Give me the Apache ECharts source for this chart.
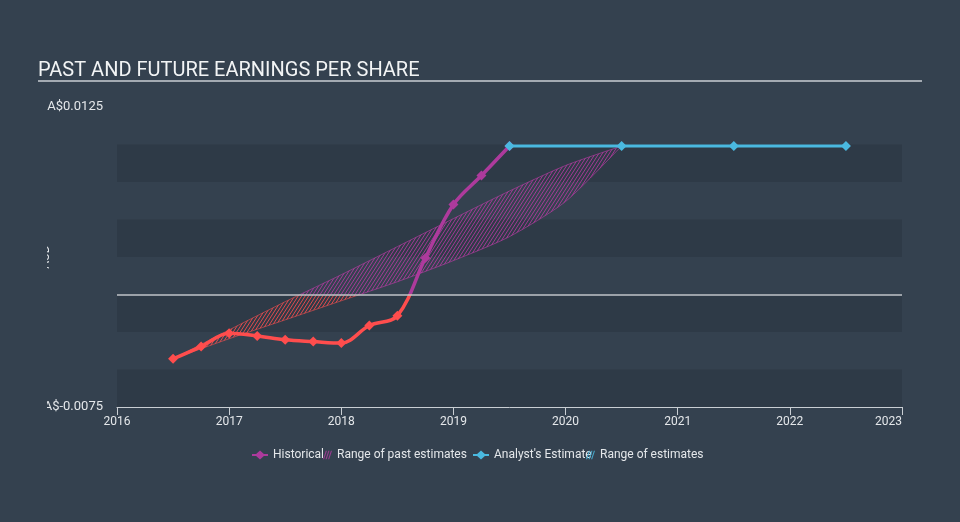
<!DOCTYPE html>
<html><head><meta charset="utf-8">
<script src="https://cdn.jsdelivr.net/npm/echarts@6/dist/echarts.min.js"></script>
<style>html,body{margin:0;padding:0;background:#34414f;}#c{width:960px;height:522px;}</style>
</head><body><div id="c"></div>
<script>
// ---- data ----
const historicalDates = [2016.5, 2016.75, 2017, 2017.25, 2017.5, 2017.75, 2018, 2018.25, 2018.5, 2018.75, 2019, 2019.25, 2019.5];
const historicalEPS   = [-0.00429, -0.00347, -0.00258, -0.00276, -0.00302, -0.00314, -0.00324, -0.00207, -0.00142, 0.00244, 0.00600, 0.00793, 0.0099];
const estimateDates   = [2019.5, 2020.5, 2021.5, 2022.5];
const estimateEPS     = [0.0099, 0.0099, 0.0099, 0.0099];
const pastRangeDates  = [2016.5, 2017, 2017.5, 2018, 2018.5, 2019, 2019.5, 2020, 2020.5];
const pastRangeLow    = [-0.00429, -0.00295, -0.00169, -0.00042, 0.00085, 0.00226, 0.00386, 0.0062, 0.0099];
const pastRangeHigh   = [-0.00429, -0.00236, -0.00048, 0.00132, 0.00319, 0.00506, 0.0069, 0.0086, 0.0099];
const yMin = -0.0075, yMax = 0.0125, yStep = 0.0025;
const xMin = 2016, xMax = 2023, xStep = 1;
const currency = 'A$';
const unitName = 'AUD';

// ---- style ----
const BG = '#34414f';
const RED = '#ff4d4d';
const PURPLE = '#ad3a9c';
const BLUE = '#4ab9e0';
const TXT = '#e4e7ea';
const FONT = 'Roboto';
const hatchIcon = 'path://M0,10L1.3,10L4.6,0L3.3,0Z M3,10L4.3,10L7.6,0L6.3,0Z M6,10L7.3,10L10.6,0L9.3,0Z';
const lineDiamondIcon = 'path://M0,3.5L4.1,3.5L8,0L11.9,3.5L16,3.5L16,5.5L11.9,5.5L8,9L4.1,5.5L0,5.5Z';

const zip = (a, b) => a.map((v, i) => [v, b[i]]);

// hatch tile (repeatable) for the estimate range
function hatchTile(color) {
  const w = 7, h = 11;
  const c = document.createElement('canvas'); c.width = w; c.height = h;
  const ctx = c.getContext('2d');
  ctx.strokeStyle = color; ctx.lineWidth = 1;
  ctx.beginPath();
  for (let k = -3; k <= 3; k++) { const x0 = k * 3.5; ctx.moveTo(x0, h); ctx.lineTo(x0 + w, 0); }
  ctx.stroke();
  return c;
}
const hatchRed = {image: hatchTile('rgba(255,80,80,0.85)'), repeat: 'repeat'};
const hatchPurple = {image: hatchTile('rgba(190,60,168,0.8)'), repeat: 'repeat'};

// smooth curve through pixel points (cubic Hermite / Catmull-Rom)
function smoothPts(pts, k, n) {
  const out = [];
  for (let i = 0; i < pts.length - 1; i++) {
    const p0 = pts[i - 1] || pts[i], p1 = pts[i], p2 = pts[i + 1], p3 = pts[i + 2] || pts[i + 1];
    const m1 = [k * (p2[0] - p0[0]), k * (p2[1] - p0[1])];
    const m2 = [k * (p3[0] - p1[0]), k * (p3[1] - p1[1])];
    for (let s = 0; s < n; s++) {
      const t = s / n, t2 = t * t, t3 = t2 * t;
      const a = 2 * t3 - 3 * t2 + 1, b = t3 - 2 * t2 + t, c = -2 * t3 + 3 * t2, d = t3 - t2;
      out.push([a * p1[0] + b * m1[0] + c * p2[0] + d * m2[0], a * p1[1] + b * m1[1] + c * p2[1] + d * m2[1]]);
    }
  }
  out.push(pts[pts.length - 1]);
  return out;
}
function clipPoly(poly, zy, below) {
  const inside = p => below ? p[1] >= zy : p[1] <= zy;
  const out = [];
  for (let i = 0; i < poly.length; i++) {
    const a = poly[i], b = poly[(i + 1) % poly.length];
    const ia = inside(a), ib = inside(b);
    if (ia) out.push(a);
    if (ia !== ib) { const t = (zy - a[1]) / (b[1] - a[1]); out.push([a[0] + t * (b[0] - a[0]), zy]); }
  }
  return out;
}
function splitLine(pts, zy) {
  const runs = []; let cur = null;
  for (let i = 0; i < pts.length; i++) {
    const p = pts[i], below = p[1] >= zy;
    if (!cur) { cur = {below, pts: [p]}; continue; }
    if (below !== cur.below) {
      const a = pts[i - 1], t = (zy - a[1]) / (p[1] - a[1]);
      const m = [a[0] + t * (p[0] - a[0]), zy];
      cur.pts.push(m); runs.push(cur); cur = {below, pts: [m, p]};
    } else cur.pts.push(p);
  }
  if (cur) runs.push(cur);
  return runs;
}

const chart = echarts.init(document.getElementById('c'), null, {renderer: 'canvas'});

const legendBase = {top: 449, itemHeight: 9, padding: 0, selectedMode: false, textStyle: {color: TXT, fontSize: 12, fontFamily: FONT}};

const option = {
  backgroundColor: BG,
  animation: false,
  title: {
    text: 'PAST AND FUTURE EARNINGS PER SHARE', left: 33, top: 56,
    textStyle: {color: '#f2f4f5', fontSize: 20, fontWeight: 'normal', fontFamily: FONT}
  },
  grid: {left: 117, right: 58, top: 107, bottom: 115},
  legend: [
    Object.assign({}, legendBase, {left: 252, itemWidth: 16, data: [{name: 'Historical', icon: lineDiamondIcon, itemStyle: {color: PURPLE}}]}),
    Object.assign({}, legendBase, {left: 323, itemWidth: 9, data: [{name: 'Range of past estimates', icon: hatchIcon, itemStyle: {color: PURPLE, opacity: 0.85}}]}),
    Object.assign({}, legendBase, {left: 473, itemWidth: 16, data: [{name: "Analyst's Estimate", icon: lineDiamondIcon, itemStyle: {color: BLUE}}]}),
    Object.assign({}, legendBase, {left: 586, itemWidth: 9, data: [{name: 'Range of estimates', icon: hatchIcon, itemStyle: {color: BLUE, opacity: 0.85}}]})
  ],
  xAxis: {
    type: 'value', min: xMin, max: xMax, interval: xStep,
    axisLine: {show: true, onZero: false, lineStyle: {color: '#c9ced3', width: 1}},
    axisTick: {show: true, length: 8, lineStyle: {color: '#c9ced3'}},
    axisLabel: {color: TXT, fontSize: 12, fontFamily: FONT, margin: 9, alignMaxLabel: 'right', formatter: v => String(Math.round(v))},
    splitLine: {show: false}
  },
  yAxis: {
    type: 'value', min: yMin, max: yMax, interval: yStep,
    name: unitName, nameLocation: 'middle', nameGap: 65, nameRotate: 90, nameMoveOverlap: false,
    nameTextStyle: {color: TXT, fontSize: 12, fontFamily: FONT},
    axisLine: {show: false}, axisTick: {show: false},
    axisLabel: {
      color: TXT, fontSize: 13, fontFamily: FONT, margin: 14,
      formatter: v => (Math.abs(v - yMin) < 1e-9 || Math.abs(v - yMax) < 1e-9) ? currency + v.toFixed(4) : ''
    },
    splitLine: {show: false},
    splitArea: {show: true, areaStyle: {color: ['#2e3a47', 'rgba(0,0,0,0)']}}
  },
  visualMap: {
    type: 'piecewise', show: false, seriesIndex: 0, dimension: 1,
    pieces: [{lt: 0, color: RED}, {gte: 0, lte: 1, color: PURPLE}],
    outOfRange: {color: PURPLE}
  },
  graphic: [
    {type: 'line', z: 50, shape: {x1: 38, y1: 81, x2: 922, y2: 81}, style: {stroke: '#a3aab2', lineWidth: 2}},
    {type: 'rect', z: 100, shape: {x: 0, y: 95, width: 47, height: 330}, style: {fill: BG}}
  ],
  series: [
    {
      name: 'Historical', type: 'line', z: 4,
      data: zip(historicalDates, historicalEPS),
      smooth: 0.35, symbol: 'diamond', symbolSize: 10,
      lineStyle: {width: 3.5}, itemStyle: {color: PURPLE}
    },
    {
      name: 'Range of past estimates', type: 'custom', z: 2, coordinateSystem: 'cartesian2d',
      data: pastRangeDates.map((d, i) => [d, pastRangeLow[i], pastRangeHigh[i]]),
      encode: {x: 0, y: [1, 2]},
      itemStyle: {color: PURPLE},
      renderItem: function (params, api) {
        if (params.dataIndex !== 0) return null;
        const up = smoothPts(pastRangeDates.map((d, i) => api.coord([d, pastRangeHigh[i]])), 0.35, 12);
        const lo = smoothPts(pastRangeDates.map((d, i) => api.coord([d, pastRangeLow[i]])), 0.35, 12);
        const zy = api.coord([xMin, 0])[1];
        const poly = up.concat(lo.slice().reverse());
        const children = [];
        const below = clipPoly(poly, zy, true), above = clipPoly(poly, zy, false);
        if (below.length > 2) children.push({type: 'polygon', shape: {points: below}, style: {fill: hatchRed, stroke: null}});
        if (above.length > 2) children.push({type: 'polygon', shape: {points: above}, style: {fill: hatchPurple, stroke: null}});
        [up, lo].forEach(edge => splitLine(edge, zy).forEach(r => children.push({
          type: 'polyline', shape: {points: r.pts},
          style: {fill: null, stroke: r.below ? 'rgba(255,80,80,0.55)' : 'rgba(190,60,168,0.6)', lineWidth: 1}
        })));
        return {type: 'group', children};
      }
    },
    {
      name: "Analyst's Estimate", type: 'line', z: 5,
      data: zip(estimateDates, estimateEPS),
      symbol: 'diamond', symbolSize: 10,
      lineStyle: {width: 3, color: BLUE}, itemStyle: {color: BLUE},
      markLine: {
        silent: true, symbol: 'none', label: {show: false},
        lineStyle: {color: '#c0c5ca', width: 1.5, type: 'solid'},
        data: [{yAxis: 0}]
      }
    },
    {
      name: 'Range of estimates', type: 'line', z: 2, data: [],
      itemStyle: {color: BLUE}, lineStyle: {color: BLUE}
    }
  ]
};

chart.setOption(option);
</script>
</body></html>
